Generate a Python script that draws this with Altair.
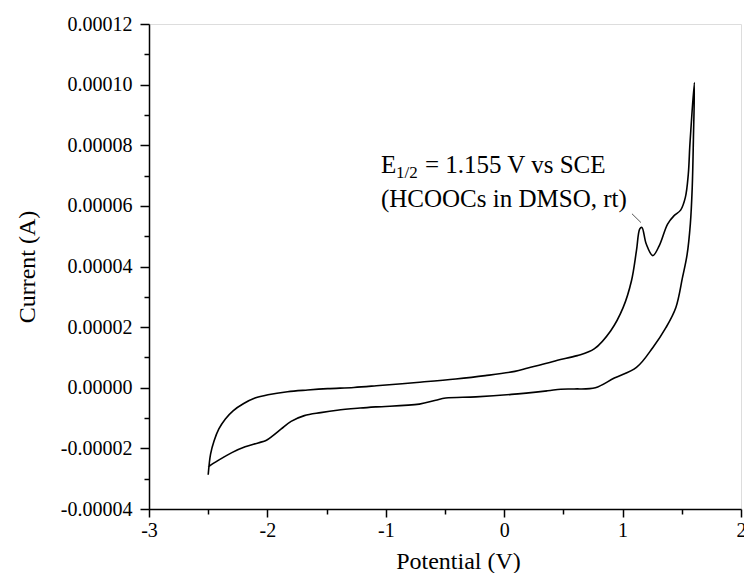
import altair as alt
import pandas as pd

# Forward (anodic) scan: potential (V) and current (A)
upper_v = [-2.50, -2.48, -2.45, -2.41, -2.355, -2.29, -2.20, -2.105, -1.995, -1.83, -1.66, -1.49,
           -1.27, -1.08, -0.74, -0.41, -0.16, 0.09, 0.20, 0.367, 0.45, 0.617, 0.76, 0.90, 1.005,
           1.075, 1.117, 1.145, 1.163, 1.20, 1.255, 1.31, 1.38, 1.435, 1.49, 1.53, 1.555, 1.567,
           1.576, 1.606]
upper_i = [-2.87e-5, -2.19e-5, -1.75e-5, -1.36e-5, -1.03e-5, -0.76e-5, -0.52e-5, -0.34e-5, -0.23e-5,
           -0.13e-5, -0.075e-5, -0.03e-5, 0.01e-5, 0.065e-5, 0.175e-5, 0.29e-5, 0.40e-5, 0.54e-5,
           0.65e-5, 0.815e-5, 0.91e-5, 1.06e-5, 1.28e-5, 1.88e-5, 2.65e-5, 3.53e-5, 4.52e-5, 5.24e-5,
           5.29e-5, 4.74e-5, 4.36e-5, 4.69e-5, 5.40e-5, 5.68e-5, 5.86e-5, 6.28e-5, 7.05e-5, 7.93e-5,
           8.48e-5, 10.07e-5]

# Reverse scan
lower_v = [1.598, 1.588, 1.572, 1.545, 1.506, 1.45, 1.367, 1.256, 1.117, 0.93, 0.77, 0.59, 0.478,
           0.367, 0.06, -0.24, -0.494, -0.578, -0.717, -1.078, -1.217, -1.411, -1.55, -1.688, -1.80,
           -1.883, -1.953, -2.008, -2.078, -2.188, -2.30, -2.383, -2.467, -2.50]
lower_i = [8.2e-5, 6.6e-5, 5.4e-5, 4.4e-5, 3.64e-5, 2.65e-5, 1.99e-5, 1.33e-5, 0.67e-5, 0.32e-5,
           0.0, -0.04e-5, -0.05e-5, -0.10e-5, -0.22e-5, -0.30e-5, -0.34e-5, -0.41e-5, -0.54e-5,
           -0.63e-5, -0.67e-5, -0.74e-5, -0.82e-5, -0.92e-5, -1.11e-5, -1.36e-5, -1.58e-5, -1.73e-5,
           -1.82e-5, -1.95e-5, -2.14e-5, -2.32e-5, -2.52e-5, -2.62e-5]

x_major = [-3, -2, -1, 0, 1, 2]
x_minor = [-2.5, -1.5, -0.5, 0.5, 1.5]
y_major = [-0.00004, -0.00002, 0.0, 0.00002, 0.00004, 0.00006, 0.00008, 0.00010, 0.00012]
y_minor = [-0.00003, -0.00001, 0.00001, 0.00003, 0.00005, 0.00007, 0.00009, 0.00011]

line1_parts = ["E", "1/2", "= 1.155 V vs SCE"]
line2_text = "(HCOOCs in DMSO, rt)"

pot = upper_v + lower_v
cur = upper_i + lower_i
df = pd.DataFrame({"v": pot, "i": cur, "idx": list(range(len(pot)))})

FONT = "Liberation Serif"
xscale = alt.Scale(domain=[-3, 2], nice=False, zero=False)
yscale = alt.Scale(domain=[-0.00004, 0.00012], nice=False, zero=False)

axis_common = dict(domainColor="black", domainWidth=1.5, tickColor="black", tickWidth=1.5,
                   grid=False, labelFont=FONT, labelColor="black", labelFontSize=20,
                   titleFont=FONT, titleColor="black", titleFontSize=24, titleFontWeight="normal")

x_axis = alt.Axis(values=x_major, orient="bottom", tickSize=8, labelPadding=3,
                  labelExpr="(datum.value < 0 ? '-' : '') + format(abs(datum.value), 'd')",
                  title="Potential (V)", titlePadding=9, titleX=309, titleAlign="center",
                  labelFlush=False, labelOverlap=False, **axis_common)
y_axis = alt.Axis(values=y_major, orient="left", tickSize=9, labelPadding=8,
                  labelExpr="(datum.value < 0 ? '-' : '') + format(abs(datum.value), '.5f')",
                  title="Current (A)", titlePadding=21, labelOverlap=False, labelFlush=False,
                  **axis_common)

curve = alt.Chart(df).mark_line(color="black", strokeWidth=1.6, interpolate="catmull-rom").encode(
    x=alt.X("v:Q", scale=xscale, axis=x_axis),
    y=alt.Y("i:Q", scale=yscale, axis=y_axis),
    order="idx:Q",
)

minor_common = dict(domain=False, labels=False, title=None, grid=False, tickColor="black",
                    tickWidth=1.5, tickSize=5)
minor = alt.Chart(df).mark_point(opacity=0).encode(
    x=alt.X("v:Q", scale=xscale, axis=alt.Axis(values=x_minor, orient="bottom", **minor_common)),
    y=alt.Y("i:Q", scale=yscale, axis=alt.Axis(values=y_minor, orient="left", **minor_common)),
)

ann = pd.DataFrame({"x": [-1.041], "y": [7.1e-5], "x2": [-1.041], "y2": [5.97e-5]})


def txt(text, size, dx=0, dy=0, xf="x", yf="y"):
    return alt.Chart(ann).mark_text(align="left", baseline="alphabetic", font=FONT, fontSize=size,
                                    color="black", dx=dx, dy=dy, text=text).encode(
        x=alt.X(f"{xf}:Q", scale=xscale, axis=None),
        y=alt.Y(f"{yf}:Q", scale=yscale, axis=None))


t_e = txt(line1_parts[0], 25)
t_sub = txt(line1_parts[1], 17, dx=15, dy=5)
t_rest = txt(line1_parts[2], 25, dx=44)
t_line2 = txt(line2_text, 25, xf="x2", yf="y2")

leader = pd.DataFrame({"x": [1.079], "y": [5.74e-5], "x2": [1.155], "y2": [5.45e-5]})
lead = alt.Chart(leader).mark_rule(color="#555555", strokeWidth=1).encode(
    x=alt.X("x:Q", scale=xscale, axis=None), y=alt.Y("y:Q", scale=yscale, axis=None),
    x2="x2:Q", y2="y2:Q")

chart = alt.layer(curve, minor, t_e, t_sub, t_rest, t_line2, lead).resolve_axis(
    x="independent", y="independent"
).properties(
    width=592, height=485,
    autosize=alt.AutoSizeParams(type="none"),
    padding={"left": 141, "top": 16, "right": 3, "bottom": 64},
).configure_view(stroke=None).configure(background="white")

chart.save("out.html", embed_options={"renderer": "svg", "actions": False})
